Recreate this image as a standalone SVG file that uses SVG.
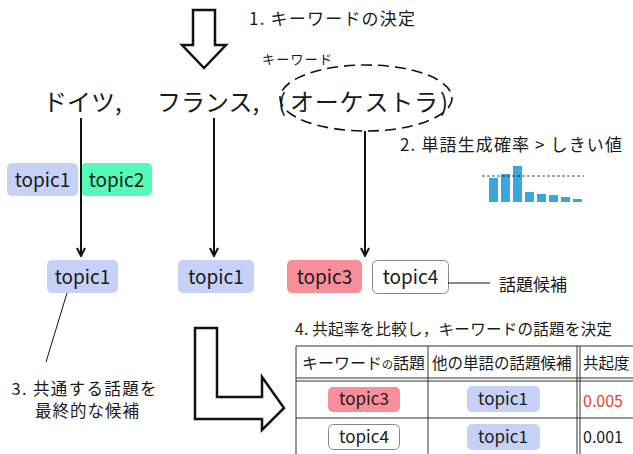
<svg xmlns="http://www.w3.org/2000/svg" width="633" height="454" viewBox="0 0 633 454">
<defs>
<style>
text{font-family:"Noto Sans CJK JP","Noto Sans",sans-serif;fill:#1a1a1a}
.big{font-size:24px}
.lab{font-size:16px}
.tp{font-size:19px}
.tt{font-size:17px}
.pill1{fill:#c5d1f6}
.pill2{fill:#55fbb9}
.pill3{fill:#f98e9b}
.pill4{fill:#fff;stroke:#888;stroke-width:1}
.conn{stroke:#111;stroke-width:2;fill:none}
.thin{stroke:#111;stroke-width:1;fill:none}
.bigarrow{fill:#fff;stroke:#111;stroke-width:2.5;stroke-linejoin:miter}
.tl{stroke:#333;stroke-width:1;fill:none}
.bar{fill:#3aa6dc}
</style>
<marker id="ah" viewBox="0 0 10 10" refX="9" refY="5" markerWidth="10" markerHeight="10" markerUnits="userSpaceOnUse" orient="auto">
<path d="M1,1 L9,5 L1,9" fill="none" stroke="#111" stroke-width="2"/>
</marker>
</defs>
<rect width="633" height="454" fill="#fff"/>

<g id="step1">
<polygon class="bigarrow" points="193,10 215,10 215,45 226,45 204,68 182,45 193,45"/>
<text x="249" y="25" style="font-size:17px" textLength="166">1.  キーワードの決定</text>
</g>

<g id="words">
<text x="43" y="111" class="big">ドイツ,</text>
<text x="157" y="111" class="big">フランス,</text>
<text x="278" y="111" class="big">(</text>
<text x="290" y="111" class="big" textLength="148">オーケストラ</text>
<text x="440" y="111" class="big">)</text>
</g>

<g id="keyword">
<text x="262" y="64" style="font-size:13px" textLength="70">キーワード</text>
<ellipse cx="366" cy="98" rx="86" ry="33" fill="none" stroke="#111" stroke-width="1.6" stroke-dasharray="11,6"/>
</g>

<g id="topics-doitsu">
<rect class="pill1" x="7" y="163" width="71" height="33" rx="5"/>
<text x="42.5" y="187" class="tp" text-anchor="middle">topic1</text>
<rect class="pill2" x="81" y="163" width="71" height="33" rx="5"/>
<text x="116.5" y="187" class="tp" text-anchor="middle">topic2</text>
</g>

<g id="step2">
<text x="400" y="151" class="tt" textLength="222">2. 単語生成確率 &gt; しきい値</text>
<rect class="bar" x="489" y="178" width="9" height="24"/>
<rect class="bar" x="501" y="174" width="9" height="28"/>
<rect class="bar" x="513" y="166" width="9" height="36"/>
<rect class="bar" x="525" y="192" width="9" height="10"/>
<rect class="bar" x="537" y="194" width="9" height="8"/>
<rect class="bar" x="549" y="195" width="9" height="7"/>
<rect class="bar" x="561" y="197" width="9" height="5"/>
<rect class="bar" x="573" y="199" width="9" height="3"/>
<line x1="482" y1="176" x2="584" y2="176" stroke="#222" stroke-width="0.8" stroke-dasharray="3,2"/>
</g>

<g id="result-doitsu">
<rect class="pill1" x="47" y="260" width="71" height="33" rx="5"/>
<text x="82.5" y="284" class="tp" text-anchor="middle">topic1</text>
</g>

<g id="result-france">
<rect class="pill1" x="178" y="260" width="76" height="33" rx="5"/>
<text x="216" y="284" class="tp" text-anchor="middle">topic1</text>
</g>

<g id="result-orchestra">
<rect class="pill3" x="287" y="260" width="75" height="33" rx="5"/>
<text x="324.5" y="284" class="tp" text-anchor="middle">topic3</text>
<rect class="pill4" x="372.5" y="260.5" width="76" height="33" rx="5"/>
<text x="410.5" y="284" class="tp" text-anchor="middle">topic4</text>
<text x="499" y="291" style="font-size:17px">話題候補</text>
</g>

<g id="step3">
<text x="84" y="395" style="font-size:16.5px" text-anchor="middle" textLength="145">3. 共通する話題を</text>
<text x="87" y="417" style="font-size:16.5px" text-anchor="middle" textLength="104">最終的な候補</text>
</g>

<g id="step4-arrow">
<polygon class="bigarrow" points="195,328 217,328 217,397 262,397 262,377 284,408 262,430 262,419 195,419"/>
</g>

<g id="step4">
<text x="295" y="335" style="font-size:15.5px" textLength="317">4. 共起率を比較し，キーワードの話題を決定</text>
<g id="table">
<line class="tl" x1="296" y1="346" x2="633" y2="346"/>
<line class="tl" x1="296" y1="346" x2="296" y2="454"/>
<line class="tl" x1="428" y1="346" x2="428" y2="454"/>
<line class="tl" x1="577" y1="346" x2="577" y2="454"/>
<line class="tl" x1="580" y1="346" x2="580" y2="454"/>
<line class="tl" x1="296" y1="378" x2="633" y2="378"/>
<line class="tl" x1="296" y1="381" x2="633" y2="381"/>
<line class="tl" x1="296" y1="418" x2="633" y2="418"/>
<text x="302" y="369" style="font-size:16px">キーワード<tspan style="font-size:11px">の</tspan>話題</text>
<text x="432" y="369" style="font-size:15.5px">他の単語の話題候補</text>
<text x="583" y="369" style="font-size:15.5px">共起度</text>
<rect class="pill3" x="328" y="387" width="72" height="25" rx="5"/>
<text x="364" y="405" class="tt" text-anchor="middle">topic3</text>
<rect class="pill1" x="467" y="386" width="73" height="26" rx="5"/>
<text x="503" y="405" class="tt" text-anchor="middle">topic1</text>
<text x="583" y="407" style="font-size:16px;fill:#e8432d">0.005</text>
<rect class="pill4" x="328.5" y="424.5" width="71" height="25" rx="5"/>
<text x="364" y="443" class="tt" text-anchor="middle">topic4</text>
<rect class="pill1" x="467" y="424" width="73" height="26" rx="5"/>
<text x="503" y="443" class="tt" text-anchor="middle">topic1</text>
<text x="583" y="443" style="font-size:16px">0.001</text>
</g>
</g>

<g id="connectors">
<line class="conn" x1="81" y1="118" x2="81" y2="256" marker-end="url(#ah)"/>
<line class="conn" x1="214" y1="118" x2="214" y2="256" marker-end="url(#ah)"/>
<line class="conn" x1="365" y1="131" x2="365" y2="256" marker-end="url(#ah)"/>
<line class="thin" x1="448" y1="283" x2="490" y2="283"/>
<line class="thin" x1="67" y1="293" x2="46" y2="362"/>
</g>
</svg>
